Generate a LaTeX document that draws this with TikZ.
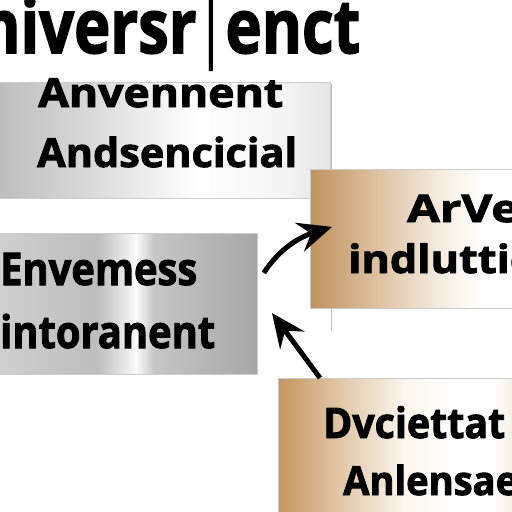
\documentclass[tikz,border=0pt]{standalone}
\usepackage{fontspec}
\setmainfont{Open Sans}[BoldFont={Open Sans Bold}, BoldFeatures={FakeBold=2.2}]
\usetikzlibrary{arrows.meta,calc}
\definecolor{gA}{HTML}{BDBDBD}\definecolor{gB}{HTML}{DCDCDC}\definecolor{gC}{HTML}{FFFFFF}\definecolor{gD}{HTML}{F4F4F4}\definecolor{gE}{HTML}{E4E4E4}
\definecolor{hA}{HTML}{CFCFCF}\definecolor{hB}{HTML}{BDBDBD}\definecolor{hC}{HTML}{FAFAFA}\definecolor{hD}{HTML}{C6C6C6}\definecolor{hE}{HTML}{A6A6A6}
\definecolor{tA}{HTML}{C0925F}\definecolor{tB}{HTML}{DCC0A0}\definecolor{tC}{HTML}{F4EBE0}\definecolor{tD}{HTML}{FFFFFF}
\definecolor{uA}{HTML}{C29660}\definecolor{uB}{HTML}{E0C5A5}\definecolor{uC}{HTML}{FBF5EE}\definecolor{uD}{HTML}{FFFFFF}\definecolor{uE}{HTML}{EEDFCE}
\pgfdeclarehorizontalshading{shadeone}{100bp}{color(0bp)=(gA); color(25bp)=(gA); color(40bp)=(gB); color(55bp)=(gC); color(68bp)=(gD); color(75bp)=(gE); color(100bp)=(gE)}
\pgfdeclarehorizontalshading{shadetwo}{100bp}{color(0bp)=(hA); color(25bp)=(hA); color(44bp)=(hB); color(51.5bp)=(hC); color(55bp)=(hD); color(75bp)=(hE); color(100bp)=(hE)}
\pgfdeclarehorizontalshading{shadethree}{100bp}{color(0bp)=(tA); color(25bp)=(tA); color(40bp)=(tB); color(55bp)=(tC); color(65bp)=(tD); color(75bp)=(tD); color(100bp)=(tD)}
\pgfdeclarehorizontalshading{shadefour}{100bp}{color(0bp)=(uA); color(25bp)=(uA); color(37bp)=(uB); color(50bp)=(uC); color(60bp)=(uD); color(68bp)=(uD); color(75bp)=(uE); color(100bp)=(uE)}
\newcommand{\fitw}[2]{\resizebox{#1}{\height}{#2}}
\begin{document}
\begin{tikzpicture}[x=1pt,y=-1pt,
  panel/.style={shade, draw=black!20, line width=0.8pt, inner sep=0pt, anchor=north west},
  lbl/.style={anchor=base west, inner sep=0pt, font=\bfseries},
  arr/.style={line width=5pt, -{Stealth[length=34pt,width=30pt,inset=12pt]}}]
\useasboundingbox (0,0) rectangle (512,512);
\clip (0,0) rectangle (512,512);
\fill[white] (0,0) rectangle (512,512);
% title
\node[lbl, font=\bfseries\fontsize{75}{80}\selectfont] (title) at (-20,53) {\fitw{380pt}{niversr\kern-3pt{\mdseries|}\kern-3pt enct}};
% frame line
\draw[black!25, line width=1pt] (331,84) -- (331,330);
% box 1
\node[panel, shading=shadeone, minimum width=331pt, minimum height=116pt] (b1) at (-1,82) {};
\node[lbl, font=\bfseries\fontsize{40}{44}\selectfont] (t1a) at (38,107) {\fitw{245pt}{Anvennent}};
\node[lbl, font=\bfseries\fontsize{40}{44}\selectfont] (t1b) at (37,167) {\fitw{260pt}{Andsencicial}};
% box 2
\node[panel, shading=shadetwo, minimum width=258pt, minimum height=141pt] (b2) at (-1,233) {};
\node[lbl, font=\bfseries\fontsize{45}{50}\selectfont] (t2a) at (0,285) {\fitw{197pt}{Envemess}};
\node[lbl, font=\bfseries\fontsize{45}{50}\selectfont] (t2b) at (0,348) {\fitw{215pt}{intoranent}};
% box 3
\node[panel, shading=shadethree, minimum width=215pt, minimum height=139pt] (b3) at (310,169) {};
\node[lbl, font=\bfseries\fontsize{38}{42}\selectfont] (t3a) at (407,222) {\fitw{112pt}{ArVe}};
\node[lbl, font=\bfseries\fontsize{39}{44}\selectfont] (t3b) at (348,273) {\fitw{184pt}{indluttic}};
% box 4
\node[panel, shading=shadefour, minimum width=250pt, minimum height=140pt] (b4) at (278,378) {};
\node[lbl, font=\bfseries\fontsize{42}{46}\selectfont] (t4a) at (323,438) {\fitw{182pt}{Dvciettat}};
\node[lbl, font=\bfseries\fontsize{40}{44}\selectfont] (t4b) at (343,495) {\fitw{175pt}{Anlensae}};
% arrows
\coordinate (a1s) at ($(b2.east)+(6,-31)$);
\coordinate (a1e) at ($(b3.west)+(22,-12)$);
\draw[arr] (a1s) .. controls (280,248) and (300,237) .. (a1e);
\coordinate (a2s) at ($(b4.north west)+(42,0)$);
\coordinate (a2e) at (272,313);
\draw[arr] (a2s) -- (a2e);
\end{tikzpicture}
\end{document}
